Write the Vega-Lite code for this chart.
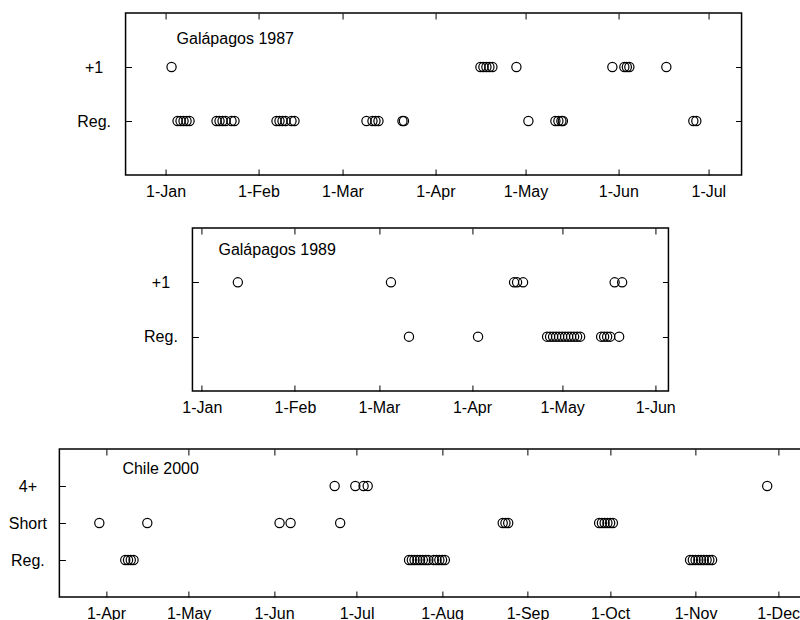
{
  "$schema": "https://vega.github.io/schema/vega-lite/v6.json",
  "padding": {"left": 7, "top": 11, "right": 0, "bottom": 0},
  "background": "white",
  "config": {
    "font": "Liberation Sans",
    "view": {"stroke": "black", "strokeWidth": 1.5},
    "axis": {"domain": false, "grid": false, "tickSize": -6, "tickColor": "black", "tickWidth": 1, "labelFont": "Liberation Sans", "labelFontSize": 16, "labelColor": "black", "labelFlush": false, "labelOverlap": false, "title": null},
    "axisX": {"labelPadding": 14},
    "axisY": {"labelAlign": "center", "labelBaseline": "middle", "labelPadding": 38},
    "title": {"font": "Liberation Sans", "fontSize": 16, "fontWeight": "normal", "color": "black", "anchor": "start", "frame": "group", "baseline": "alphabetic"}
  },
  "datasets": {
    "g1987": [
      {"date": "1987-01-03T00:00:00Z", "type": "+1"},
      {"date": "1987-04-16T00:00:00Z", "type": "+1"},
      {"date": "1987-04-17T00:00:00Z", "type": "+1"},
      {"date": "1987-04-18T00:00:00Z", "type": "+1"},
      {"date": "1987-04-19T00:00:00Z", "type": "+1"},
      {"date": "1987-04-20T00:00:00Z", "type": "+1"},
      {"date": "1987-04-28T00:00:00Z", "type": "+1"},
      {"date": "1987-05-30T00:00:00Z", "type": "+1"},
      {"date": "1987-06-03T00:00:00Z", "type": "+1"},
      {"date": "1987-06-03T20:00:00Z", "type": "+1"},
      {"date": "1987-06-04T16:00:00Z", "type": "+1"},
      {"date": "1987-06-17T00:00:00Z", "type": "+1"},
      {"date": "1987-01-05T00:00:00Z", "type": "Reg."},
      {"date": "1987-01-06T00:00:00Z", "type": "Reg."},
      {"date": "1987-01-07T00:00:00Z", "type": "Reg."},
      {"date": "1987-01-08T00:00:00Z", "type": "Reg."},
      {"date": "1987-01-09T00:00:00Z", "type": "Reg."},
      {"date": "1987-01-18T00:00:00Z", "type": "Reg."},
      {"date": "1987-01-19T00:00:00Z", "type": "Reg."},
      {"date": "1987-01-20T00:00:00Z", "type": "Reg."},
      {"date": "1987-01-21T00:00:00Z", "type": "Reg."},
      {"date": "1987-01-23T00:00:00Z", "type": "Reg."},
      {"date": "1987-01-24T00:00:00Z", "type": "Reg."},
      {"date": "1987-02-07T00:00:00Z", "type": "Reg."},
      {"date": "1987-02-08T00:00:00Z", "type": "Reg."},
      {"date": "1987-02-09T00:00:00Z", "type": "Reg."},
      {"date": "1987-02-10T00:00:00Z", "type": "Reg."},
      {"date": "1987-02-12T00:00:00Z", "type": "Reg."},
      {"date": "1987-02-13T00:00:00Z", "type": "Reg."},
      {"date": "1987-03-09T00:00:00Z", "type": "Reg."},
      {"date": "1987-03-11T00:00:00Z", "type": "Reg."},
      {"date": "1987-03-12T00:00:00Z", "type": "Reg."},
      {"date": "1987-03-13T00:00:00Z", "type": "Reg."},
      {"date": "1987-03-21T00:00:00Z", "type": "Reg."},
      {"date": "1987-03-21T12:00:00Z", "type": "Reg."},
      {"date": "1987-05-02T00:00:00Z", "type": "Reg."},
      {"date": "1987-05-11T00:00:00Z", "type": "Reg."},
      {"date": "1987-05-12T00:00:00Z", "type": "Reg."},
      {"date": "1987-05-13T00:00:00Z", "type": "Reg."},
      {"date": "1987-05-13T12:00:00Z", "type": "Reg."},
      {"date": "1987-06-26T00:00:00Z", "type": "Reg."},
      {"date": "1987-06-27T00:00:00Z", "type": "Reg."}
    ],
    "g1989": [
      {"date": "1989-01-13T00:00:00Z", "type": "+1"},
      {"date": "1989-03-05T00:00:00Z", "type": "+1"},
      {"date": "1989-04-15T00:00:00Z", "type": "+1"},
      {"date": "1989-04-16T00:00:00Z", "type": "+1"},
      {"date": "1989-04-18T00:00:00Z", "type": "+1"},
      {"date": "1989-05-18T12:00:00Z", "type": "+1"},
      {"date": "1989-05-21T00:00:00Z", "type": "+1"},
      {"date": "1989-03-11T00:00:00Z", "type": "Reg."},
      {"date": "1989-04-03T00:00:00Z", "type": "Reg."},
      {"date": "1989-04-26T00:00:00Z", "type": "Reg."},
      {"date": "1989-04-27T00:00:00Z", "type": "Reg."},
      {"date": "1989-04-28T00:00:00Z", "type": "Reg."},
      {"date": "1989-04-29T00:00:00Z", "type": "Reg."},
      {"date": "1989-04-30T00:00:00Z", "type": "Reg."},
      {"date": "1989-05-01T00:00:00Z", "type": "Reg."},
      {"date": "1989-05-02T00:00:00Z", "type": "Reg."},
      {"date": "1989-05-03T00:00:00Z", "type": "Reg."},
      {"date": "1989-05-04T00:00:00Z", "type": "Reg."},
      {"date": "1989-05-05T00:00:00Z", "type": "Reg."},
      {"date": "1989-05-06T00:00:00Z", "type": "Reg."},
      {"date": "1989-05-07T00:00:00Z", "type": "Reg."},
      {"date": "1989-05-14T00:00:00Z", "type": "Reg."},
      {"date": "1989-05-15T00:00:00Z", "type": "Reg."},
      {"date": "1989-05-16T00:00:00Z", "type": "Reg."},
      {"date": "1989-05-17T00:00:00Z", "type": "Reg."},
      {"date": "1989-05-20T00:00:00Z", "type": "Reg."}
    ],
    "c2000": [
      {"date": "2000-06-23T00:00:00Z", "type": "4+"},
      {"date": "2000-06-30T12:00:00Z", "type": "4+"},
      {"date": "2000-07-03T12:00:00Z", "type": "4+"},
      {"date": "2000-07-05T00:00:00Z", "type": "4+"},
      {"date": "2000-11-27T00:00:00Z", "type": "4+"},
      {"date": "2000-03-29T14:00:00Z", "type": "Short"},
      {"date": "2000-04-16T00:00:00Z", "type": "Short"},
      {"date": "2000-06-03T00:00:00Z", "type": "Short"},
      {"date": "2000-06-07T00:00:00Z", "type": "Short"},
      {"date": "2000-06-25T00:00:00Z", "type": "Short"},
      {"date": "2000-08-23T00:00:00Z", "type": "Short"},
      {"date": "2000-08-24T00:00:00Z", "type": "Short"},
      {"date": "2000-08-25T00:00:00Z", "type": "Short"},
      {"date": "2000-09-27T00:00:00Z", "type": "Short"},
      {"date": "2000-09-28T00:00:00Z", "type": "Short"},
      {"date": "2000-09-29T00:00:00Z", "type": "Short"},
      {"date": "2000-09-30T00:00:00Z", "type": "Short"},
      {"date": "2000-10-01T00:00:00Z", "type": "Short"},
      {"date": "2000-10-02T00:00:00Z", "type": "Short"},
      {"date": "2000-04-08T00:00:00Z", "type": "Reg."},
      {"date": "2000-04-09T00:00:00Z", "type": "Reg."},
      {"date": "2000-04-10T00:00:00Z", "type": "Reg."},
      {"date": "2000-04-11T00:00:00Z", "type": "Reg."},
      {"date": "2000-07-20T00:00:00Z", "type": "Reg."},
      {"date": "2000-07-21T00:00:00Z", "type": "Reg."},
      {"date": "2000-07-22T00:00:00Z", "type": "Reg."},
      {"date": "2000-07-23T00:00:00Z", "type": "Reg."},
      {"date": "2000-07-24T00:00:00Z", "type": "Reg."},
      {"date": "2000-07-25T00:00:00Z", "type": "Reg."},
      {"date": "2000-07-26T00:00:00Z", "type": "Reg."},
      {"date": "2000-07-27T00:00:00Z", "type": "Reg."},
      {"date": "2000-07-29T00:00:00Z", "type": "Reg."},
      {"date": "2000-07-30T00:00:00Z", "type": "Reg."},
      {"date": "2000-07-31T00:00:00Z", "type": "Reg."},
      {"date": "2000-08-01T00:00:00Z", "type": "Reg."},
      {"date": "2000-08-02T00:00:00Z", "type": "Reg."},
      {"date": "2000-10-30T00:00:00Z", "type": "Reg."},
      {"date": "2000-10-31T00:00:00Z", "type": "Reg."},
      {"date": "2000-11-01T00:00:00Z", "type": "Reg."},
      {"date": "2000-11-02T00:00:00Z", "type": "Reg."},
      {"date": "2000-11-03T00:00:00Z", "type": "Reg."},
      {"date": "2000-11-04T00:00:00Z", "type": "Reg."},
      {"date": "2000-11-05T00:00:00Z", "type": "Reg."},
      {"date": "2000-11-06T00:00:00Z", "type": "Reg."},
      {"date": "2000-11-07T00:00:00Z", "type": "Reg."}
    ]
  },
  "center": true,
  "spacing": 31,
  "vconcat": [
    {
      "center": true,
      "spacing": 26,
      "vconcat": [
        {
          "width": 616, "height": 162,
          "title": {"text": "Galápagos 1987", "offset": -34, "dx": 51},
          "data": {"name": "g1987"},
          "layer": [
            {
              "mark": {"type": "point", "shape": "circle", "filled": false, "color": "black", "strokeWidth": 1.2, "size": 85, "opacity": 1},
              "encoding": {
                "x": {"field": "date", "type": "temporal",
                  "scale": {"type": "utc", "domain": [{"year": 1986, "month": 12, "date": 18, "hours": 16, "utc": true}, {"year": 1987, "month": 7, "date": 12, "hours": 2, "utc": true}]},
                  "axis": {"orient": "bottom", "format": "%-d-%b", "values": [
                    {"year": 1987, "month": 1, "date": 1, "utc": true}, {"year": 1987, "month": 2, "date": 1, "utc": true}, {"year": 1987, "month": 3, "date": 1, "utc": true}, {"year": 1987, "month": 4, "date": 1, "utc": true}, {"year": 1987, "month": 5, "date": 1, "utc": true}, {"year": 1987, "month": 6, "date": 1, "utc": true}, {"year": 1987, "month": 7, "date": 1, "utc": true}]}},
                "y": {"field": "type", "type": "nominal", "scale": {"type": "point", "padding": 1, "domain": ["+1", "Reg."]}, "axis": {"orient": "left"}}
              }
            },
            {
              "mark": {"type": "point", "shape": "circle", "filled": false, "color": "black", "size": 85, "opacity": 0},
              "encoding": {
                "x": {"field": "date", "type": "temporal",
                  "axis": {"orient": "top", "labels": false, "values": [
                    {"year": 1987, "month": 1, "date": 1, "utc": true}, {"year": 1987, "month": 2, "date": 1, "utc": true}, {"year": 1987, "month": 3, "date": 1, "utc": true}, {"year": 1987, "month": 4, "date": 1, "utc": true}, {"year": 1987, "month": 5, "date": 1, "utc": true}, {"year": 1987, "month": 6, "date": 1, "utc": true}, {"year": 1987, "month": 7, "date": 1, "utc": true}]}},
                "y": {"field": "type", "type": "nominal", "axis": {"orient": "right", "labels": false}}
              }
            }
          ],
          "resolve": {"axis": {"x": "independent", "y": "independent"}}
        },
        {
          "width": 476, "height": 163,
          "title": {"text": "Galápagos 1989", "offset": -30, "dx": 26},
          "data": {"name": "g1989"},
          "layer": [
            {
              "mark": {"type": "point", "shape": "circle", "filled": false, "color": "black", "strokeWidth": 1.2, "size": 85, "opacity": 1},
              "encoding": {
                "x": {"field": "date", "type": "temporal",
                  "scale": {"type": "utc", "domain": [{"year": 1988, "month": 12, "date": 28, "hours": 21, "utc": true}, {"year": 1989, "month": 6, "date": 5, "hours": 10, "utc": true}]},
                  "axis": {"orient": "bottom", "format": "%-d-%b", "values": [
                    {"year": 1989, "month": 1, "date": 1, "utc": true}, {"year": 1989, "month": 2, "date": 1, "utc": true}, {"year": 1989, "month": 3, "date": 1, "utc": true}, {"year": 1989, "month": 4, "date": 1, "utc": true}, {"year": 1989, "month": 5, "date": 1, "utc": true}, {"year": 1989, "month": 6, "date": 1, "utc": true}]}},
                "y": {"field": "type", "type": "nominal", "scale": {"type": "point", "padding": 1, "domain": ["+1", "Reg."]}, "axis": {"orient": "left"}}
              }
            },
            {
              "mark": {"type": "point", "shape": "circle", "filled": false, "color": "black", "size": 85, "opacity": 0},
              "encoding": {
                "x": {"field": "date", "type": "temporal",
                  "axis": {"orient": "top", "labels": false, "values": [
                    {"year": 1989, "month": 1, "date": 1, "utc": true}, {"year": 1989, "month": 2, "date": 1, "utc": true}, {"year": 1989, "month": 3, "date": 1, "utc": true}, {"year": 1989, "month": 4, "date": 1, "utc": true}, {"year": 1989, "month": 5, "date": 1, "utc": true}, {"year": 1989, "month": 6, "date": 1, "utc": true}]}},
                "y": {"field": "type", "type": "nominal", "axis": {"orient": "right", "labels": false}}
              }
            }
          ],
          "resolve": {"axis": {"x": "independent", "y": "independent"}}
        }
      ]
    },
    {
      "width": 748, "height": 148,
      "title": {"text": "Chile 2000", "offset": -28, "dx": 63},
      "data": {"name": "c2000"},
      "layer": [
        {
          "mark": {"type": "point", "shape": "circle", "filled": false, "color": "black", "strokeWidth": 1.2, "size": 85, "opacity": 1},
          "encoding": {
            "x": {"field": "date", "type": "temporal",
              "scale": {"type": "utc", "domain": [{"year": 2000, "month": 3, "date": 15, "hours": 2, "utc": true}, {"year": 2000, "month": 12, "date": 11, "hours": 14, "utc": true}]},
              "axis": {"orient": "bottom", "format": "%-d-%b", "values": [
                {"year": 2000, "month": 4, "date": 1, "utc": true}, {"year": 2000, "month": 5, "date": 1, "utc": true}, {"year": 2000, "month": 6, "date": 1, "utc": true}, {"year": 2000, "month": 7, "date": 1, "utc": true}, {"year": 2000, "month": 8, "date": 1, "utc": true}, {"year": 2000, "month": 9, "date": 1, "utc": true}, {"year": 2000, "month": 10, "date": 1, "utc": true}, {"year": 2000, "month": 11, "date": 1, "utc": true}, {"year": 2000, "month": 12, "date": 1, "utc": true}]}},
            "y": {"field": "type", "type": "nominal", "scale": {"type": "point", "padding": 1, "domain": ["4+", "Short", "Reg."]}, "axis": {"orient": "left"}}
          }
        },
        {
          "mark": {"type": "point", "shape": "circle", "filled": false, "color": "black", "size": 85, "opacity": 0},
          "encoding": {
            "x": {"field": "date", "type": "temporal",
              "axis": {"orient": "top", "labels": false, "values": [
                {"year": 2000, "month": 4, "date": 1, "utc": true}, {"year": 2000, "month": 5, "date": 1, "utc": true}, {"year": 2000, "month": 6, "date": 1, "utc": true}, {"year": 2000, "month": 7, "date": 1, "utc": true}, {"year": 2000, "month": 8, "date": 1, "utc": true}, {"year": 2000, "month": 9, "date": 1, "utc": true}, {"year": 2000, "month": 10, "date": 1, "utc": true}, {"year": 2000, "month": 11, "date": 1, "utc": true}, {"year": 2000, "month": 12, "date": 1, "utc": true}]}},
            "y": {"field": "type", "type": "nominal", "axis": {"orient": "right", "labels": false}}
          }
        }
      ],
      "resolve": {"axis": {"x": "independent", "y": "independent"}}
    }
  ]
}
